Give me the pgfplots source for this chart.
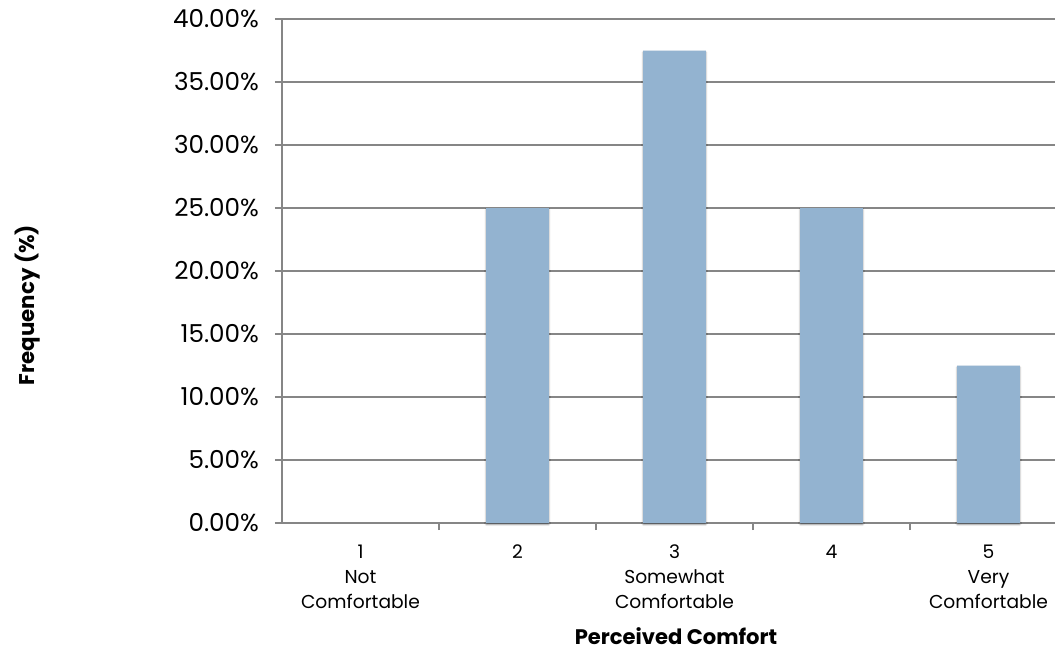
\documentclass[border=0pt]{standalone}
\usepackage{pgfplots}
\pgfplotsset{compat=1.18}
\usepackage{fontspec}
\setmainfont{Poppins}
\usetikzlibrary{shadows.blur}

\definecolor{barblue}{RGB}{147,179,208}
\definecolor{gridgray}{RGB}{134,134,134}

\begin{document}
\begin{tikzpicture}
\begin{axis}[
  name=ax,
  scale only axis,
  width=579.75pt, height=378pt,
  xmin=-0.5, xmax=4.4236,
  ymin=0, ymax=40,
  axis x line*=bottom,
  axis y line*=left,
  axis line style={gridgray, line width=1pt, -},
  ybar, bar width=0.4,
  ytick={0,5,...,40},
  yticklabels={0.00\%,5.00\%,10.00\%,15.00\%,20.00\%,25.00\%,30.00\%,35.00\%,40.00\%},
  ymajorgrids,
  grid style={gridgray, line width=1pt},
  ytick style={gridgray, line width=1pt},
  tick align=outside,
  major tick length=5.25pt,
  yticklabel style={font=\fontsize{18.5}{22}\selectfont, anchor=east, xshift=-8.5pt},
  xtick={0,1,2,3,4},
  xticklabels={{1\\Not\\Comfortable},{2},{3\\Somewhat\\Comfortable},{4},{5\\Very\\Comfortable}},
  xticklabel style={font=\fontsize{14}{18.75}\selectfont, align=center, anchor=north, yshift=-7.5pt},
  xtick style={draw=none},
  extra x ticks={0.5,1.5,2.5,3.5},
  extra x tick labels={},
  extra x tick style={xtick style={draw=gridgray, line width=1pt}, major tick length=5.25pt, grid=none},
  xlabel={\bfseries Perceived Comfort},
  xlabel style={at={(axis description cs:0.5097,-0.224)}, anchor=center, inner sep=0pt, font=\fontsize{15.8}{18}\selectfont},
  ylabel={\bfseries Frequency (\%)},
  ylabel style={at={(axis description cs:-0.329,0.4325)}, anchor=center, font=\fontsize{16}{18}\selectfont},
  clip=false,
  % empty categories draw no bar (and no shadow)
  y filter/.expression={y==0 ? nan : y},
]
\addplot[fill=barblue, draw=none,
  blur shadow={shadow xshift=0pt, shadow yshift=-1.2pt, shadow blur radius=1.2pt, shadow opacity=45}]
  coordinates {(0,0) (1,25) (2,37.5) (3,25) (4,12.5)};
\end{axis}
\pgfresetboundingbox
\path ([shift={(-211.5pt,-95.25pt)}]ax.south west) rectangle ([shift={(0pt,392.25pt)}]ax.south east);
\end{tikzpicture}
\end{document}
